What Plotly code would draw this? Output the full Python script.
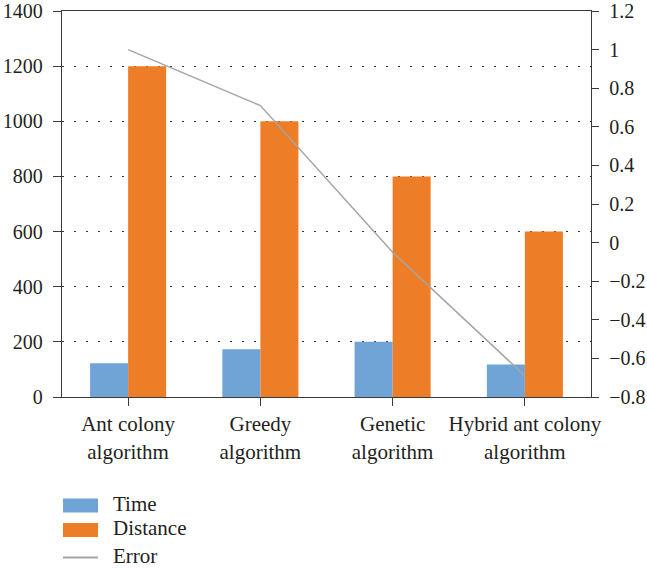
import plotly.graph_objects as go

# Data
categories = ["Ant colony<br>algorithm", "Greedy<br>algorithm",
              "Genetic<br>algorithm", "Hybrid ant colony<br>algorithm"]
time_vals = [122, 173, 200, 118]
distance_vals = [1200, 1000, 800, 600]
error_vals = [1.0, 0.71, -0.05, -0.69]

BLUE = "#70A3D6"
ORANGE = "#ED7D27"
GRAY = "#A5A5A5"
AXIS = "#3a3a3a"
TEXT = "#231f20"
FONT = "Liberation Serif"

W, H = 647, 571
L, R, T, B = 62, 56, 11, 174

fig = go.Figure()
fig.add_trace(go.Bar(x=categories, y=time_vals, name="Time",
                     marker=dict(color=BLUE, line=dict(width=0)), showlegend=False))
fig.add_trace(go.Bar(x=categories, y=distance_vals, name="Distance",
                     marker=dict(color=ORANGE, line=dict(width=0)), showlegend=False))
fig.add_trace(go.Scatter(x=categories, y=error_vals, name="Error", yaxis="y2",
                         mode="lines", line=dict(color=GRAY, width=1.5),
                         showlegend=False))

# Legend drawn below the plot in pixel units converted to paper coordinates
plot_h = H - T - B
plot_w = W - L - R


def px_to_paper_y(py):
    return (H - B - py) / plot_h


def px_to_paper_x(px):
    return (px - L) / plot_w


legend_items = [("Time", "bar", BLUE, 505.5), ("Distance", "bar", ORANGE, 530),
                ("Error", "line", GRAY, 557.5)]
shapes = []
annotations = []
for label, kind, color, cy in legend_items:
    x0, x1 = px_to_paper_x(63), px_to_paper_x(98)
    if kind == "bar":
        shapes.append(dict(type="rect", xref="paper", yref="paper",
                           x0=x0, x1=x1, y0=px_to_paper_y(cy - 7), y1=px_to_paper_y(cy + 7),
                           fillcolor=color, line=dict(width=0)))
    else:
        shapes.append(dict(type="line", xref="paper", yref="paper",
                           x0=x0, x1=x1, y0=px_to_paper_y(cy), y1=px_to_paper_y(cy),
                           line=dict(color=color, width=2)))
    annotations.append(dict(text=label, xref="paper", yref="paper",
                            x=px_to_paper_x(111), y=px_to_paper_y(cy - 2),
                            xanchor="left", yanchor="middle", showarrow=False,
                            font=dict(family=FONT, size=21, color=TEXT)))

fig.update_layout(
    width=W, height=H,
    margin=dict(l=L, r=R, t=T, b=B, autoexpand=False),
    paper_bgcolor="white", plot_bgcolor="white",
    font=dict(family=FONT, size=20, color=TEXT),
    barmode="group", bargap=0.425, bargroupgap=0,
    xaxis=dict(showline=True, linecolor=AXIS, linewidth=1.3, mirror=True,
               ticks="outside", ticklen=8, tickcolor=AXIS, tickwidth=1.3,
               showgrid=False, tickfont=dict(size=21), automargin=False),
    yaxis=dict(range=[0, 1400], dtick=200, showline=True, linecolor=AXIS,
               linewidth=1.3, ticks="outside", ticklen=8, tickcolor=AXIS,
               tickwidth=1.3, showgrid=True, gridcolor="#333333", gridwidth=1,
               griddash="1.5px,10.5px", zeroline=False, tickfont=dict(size=20),
               automargin=False, ticklabelstandoff=6),
    yaxis2=dict(range=[-0.8, 1.2], dtick=0.2, overlaying="y", side="right",
                showline=True, linecolor=AXIS, linewidth=1.3, ticks="outside",
                ticklen=7, tickcolor=AXIS, tickwidth=1.3, showgrid=False,
                zeroline=False, tickfont=dict(size=20), automargin=False,
                ticklabelstandoff=6),
    shapes=shapes, annotations=annotations,
)

fig.write_html("out.html")
